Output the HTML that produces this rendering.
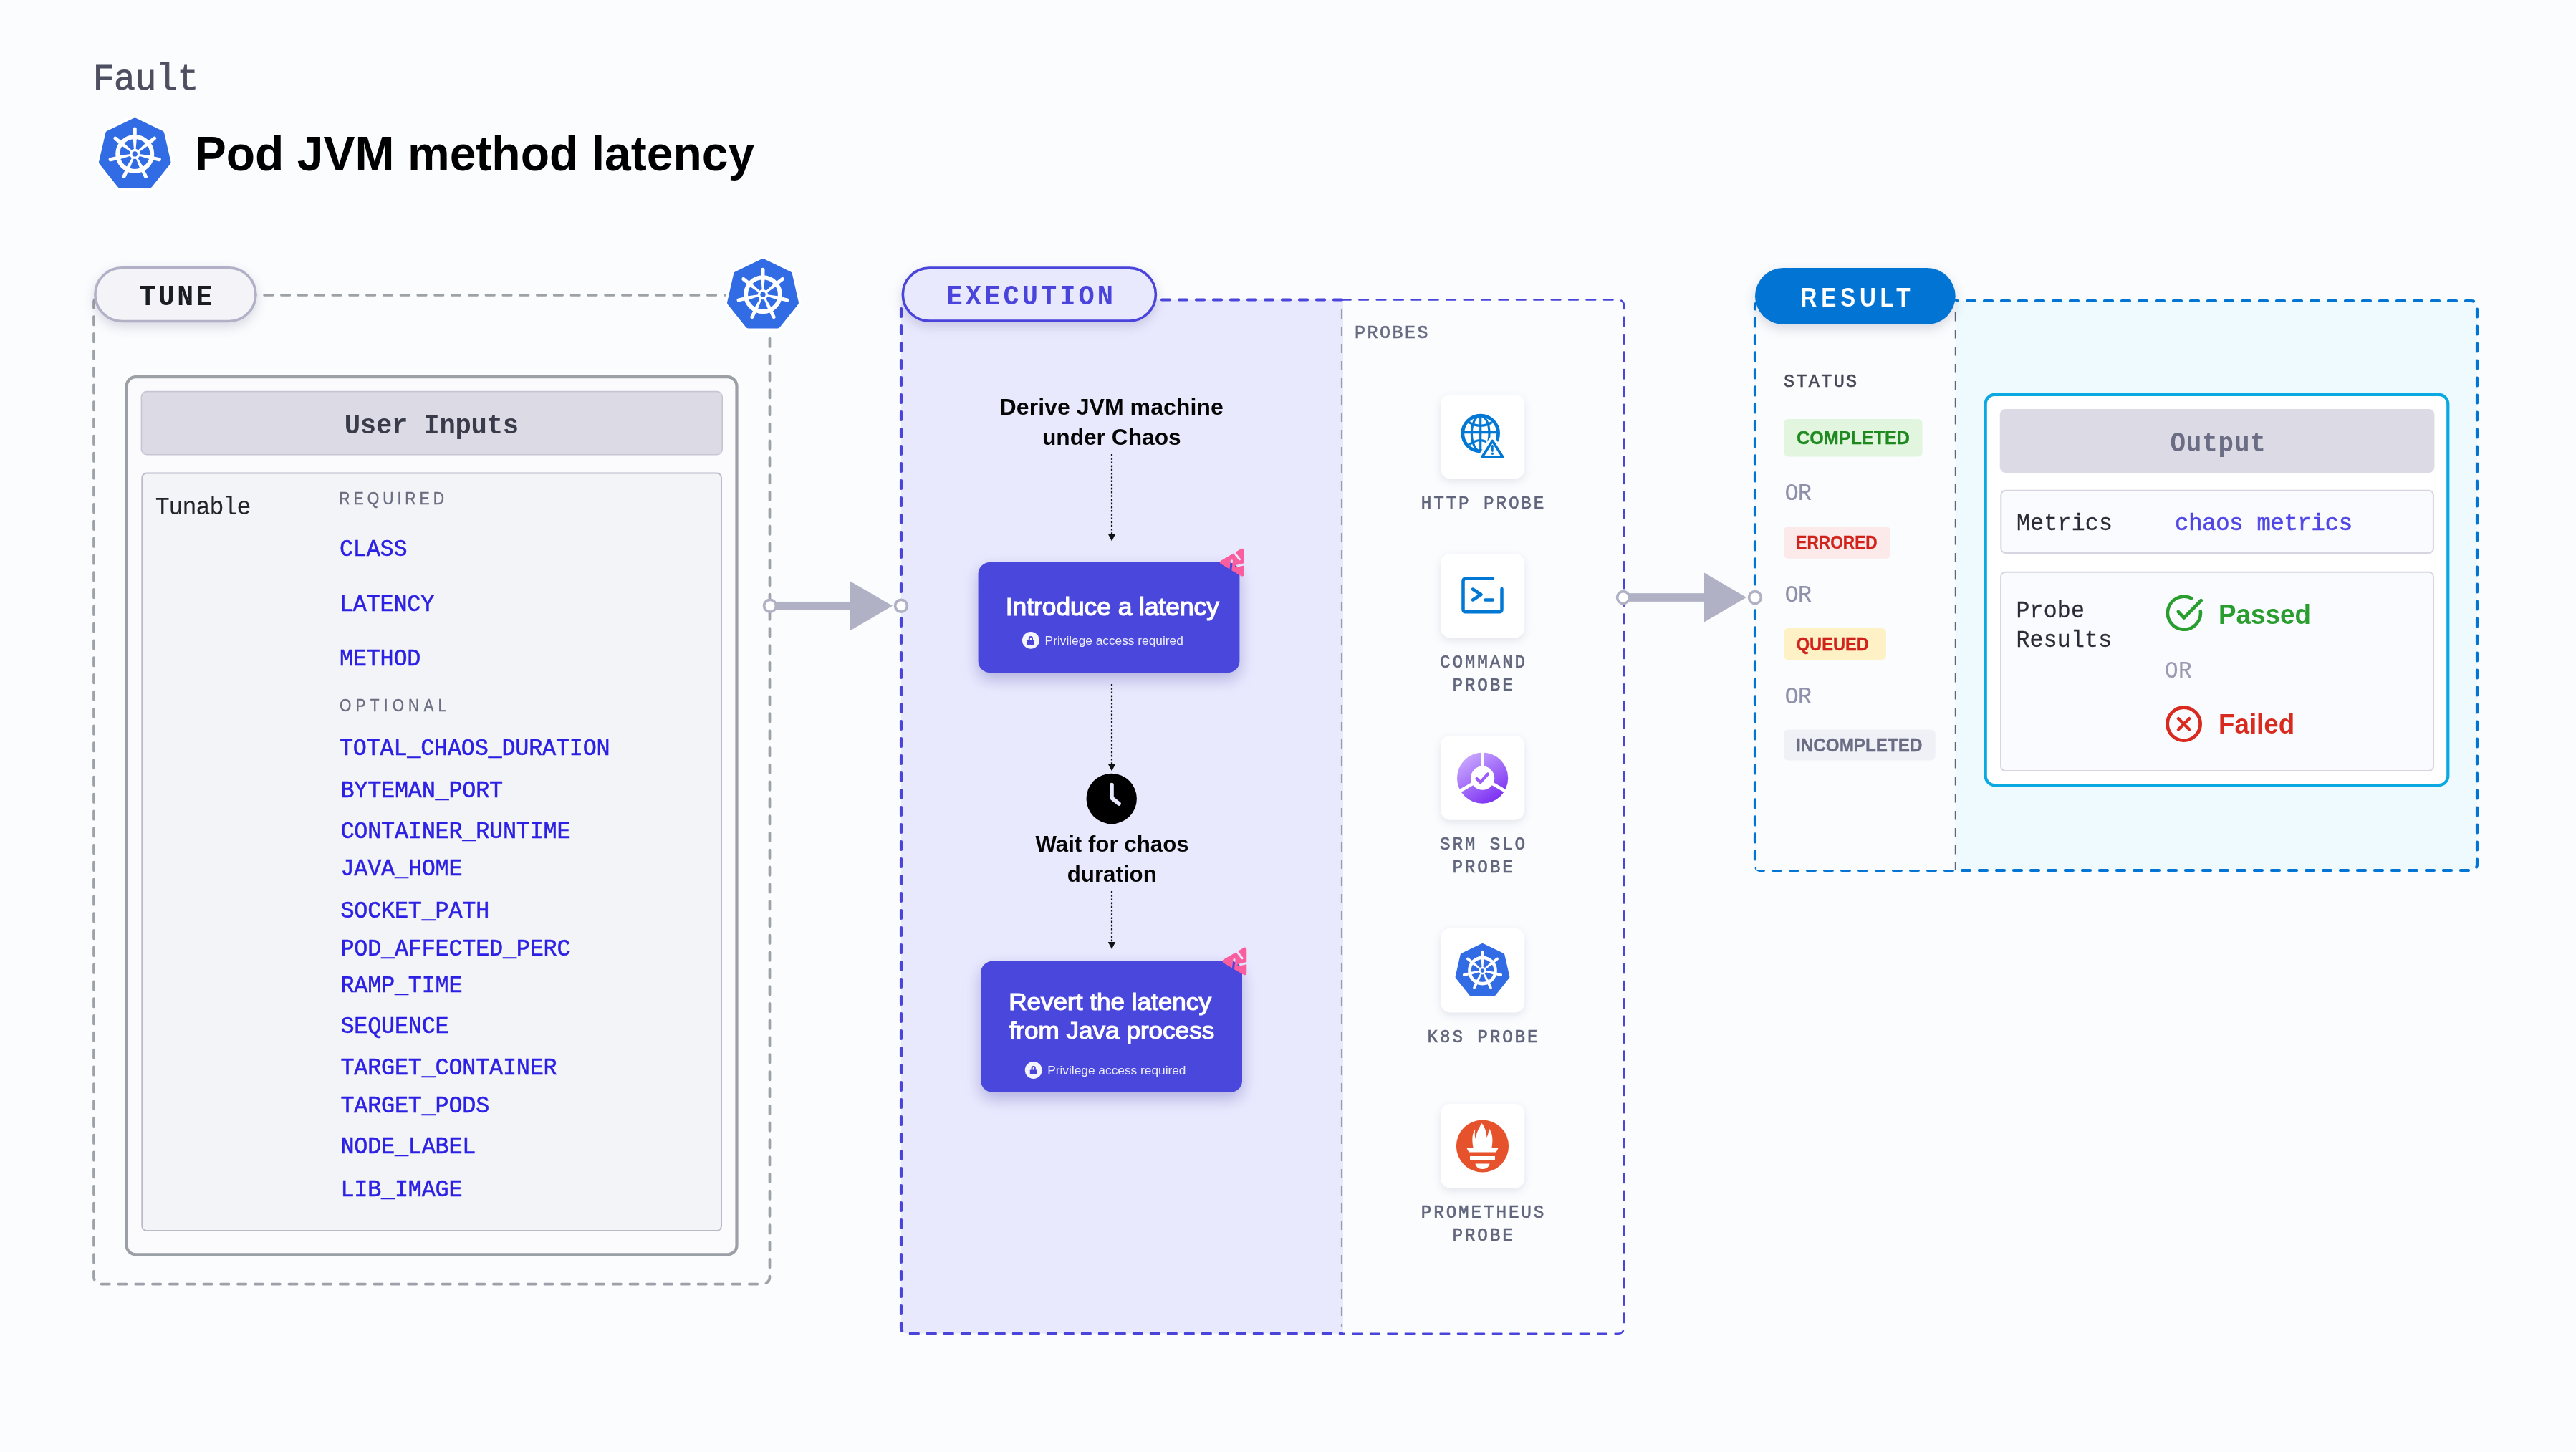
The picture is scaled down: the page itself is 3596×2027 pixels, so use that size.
<!DOCTYPE html><html><head><meta charset="utf-8"><title>Pod JVM method latency</title><style>html,body{margin:0;padding:0;background:#FBFCFE;}svg{display:block;will-change:transform;}</style></head><body>
<svg width="3596" height="2027" viewBox="0 0 3596 2027">
<defs>
<filter id="sh" x="-30%" y="-50%" width="160%" height="220%" color-interpolation-filters="sRGB"><feDropShadow dx="0" dy="6" stdDeviation="8" flood-color="#1b1d4a" flood-opacity="0.16"/></filter>
<filter id="shb" x="-40%" y="-50%" width="180%" height="220%" color-interpolation-filters="sRGB"><feDropShadow dx="0" dy="9" stdDeviation="11" flood-color="#2c2c96" flood-opacity="0.30"/></filter>
<filter id="shc" x="-40%" y="-40%" width="180%" height="190%" color-interpolation-filters="sRGB"><feDropShadow dx="0" dy="4" stdDeviation="6" flood-color="#20224a" flood-opacity="0.10"/></filter>
<linearGradient id="srm" x1="0.2" y1="0.05" x2="0.8" y2="0.95"><stop offset="0" stop-color="#C9A8FF"/><stop offset="1" stop-color="#7A2DF2"/></linearGradient>
<g id="k8s">
 <path d="M0 -47.4 L37.06 -29.55 L46.21 10.55 L20.57 42.71 L-20.57 42.71 L-46.21 10.55 L-37.06 -29.55 Z" fill="#326CE5" stroke="#326CE5" stroke-width="8" stroke-linejoin="round"/>
</g>
<g id="k8so">
 <path d="M0 -47.4 L37.06 -29.55 L46.21 10.55 L20.57 42.71 L-20.57 42.71 L-46.21 10.55 L-37.06 -29.55 Z" fill="#fff" stroke="#fff" stroke-width="16" stroke-linejoin="round"/>
</g>
<g id="wheel">
 <circle cx="0" cy="0" r="24" fill="none" stroke="#fff" stroke-width="6"/>
 <g transform="rotate(0.00)"><path d="M-1.3 -6 L1.3 -6 L2.9 -26 L-2.9 -26 Z" fill="#fff"/><line x1="0" y1="-24" x2="0" y2="-35" stroke="#fff" stroke-width="5" stroke-linecap="round"/></g><g transform="rotate(51.43)"><path d="M-1.3 -6 L1.3 -6 L2.9 -26 L-2.9 -26 Z" fill="#fff"/><line x1="0" y1="-24" x2="0" y2="-35" stroke="#fff" stroke-width="5" stroke-linecap="round"/></g><g transform="rotate(102.86)"><path d="M-1.3 -6 L1.3 -6 L2.9 -26 L-2.9 -26 Z" fill="#fff"/><line x1="0" y1="-24" x2="0" y2="-35" stroke="#fff" stroke-width="5" stroke-linecap="round"/></g><g transform="rotate(154.29)"><path d="M-1.3 -6 L1.3 -6 L2.9 -26 L-2.9 -26 Z" fill="#fff"/><line x1="0" y1="-24" x2="0" y2="-35" stroke="#fff" stroke-width="5" stroke-linecap="round"/></g><g transform="rotate(205.71)"><path d="M-1.3 -6 L1.3 -6 L2.9 -26 L-2.9 -26 Z" fill="#fff"/><line x1="0" y1="-24" x2="0" y2="-35" stroke="#fff" stroke-width="5" stroke-linecap="round"/></g><g transform="rotate(257.14)"><path d="M-1.3 -6 L1.3 -6 L2.9 -26 L-2.9 -26 Z" fill="#fff"/><line x1="0" y1="-24" x2="0" y2="-35" stroke="#fff" stroke-width="5" stroke-linecap="round"/></g><g transform="rotate(308.57)"><path d="M-1.3 -6 L1.3 -6 L2.9 -26 L-2.9 -26 Z" fill="#fff"/><line x1="0" y1="-24" x2="0" y2="-35" stroke="#fff" stroke-width="5" stroke-linecap="round"/></g>
 <circle cx="0" cy="0" r="7.2" fill="#fff"/>
 <circle cx="0" cy="0" r="3.6" fill="#326CE5"/>
</g>
</defs>
<rect x="0" y="0" width="3596" height="2027" fill="#FBFCFE"/>
<text transform="translate(129.68,125.30) scale(0.9460,1)" font-family="Liberation Mono" font-weight="400" font-size="52.58" letter-spacing="-0.439" fill="#4D4F61" stroke="#4D4F61" stroke-width="0.9">Fault</text>
<g transform="translate(188.25,215.90) scale(1.0000)"><use href="#k8so"/><use href="#k8s"/><g transform="translate(0,-1)"><use href="#wheel"/></g></g>
<text transform="translate(271.71,238.20) scale(0.9737,1)" font-family="Liberation Sans" font-weight="700" font-size="67.83" letter-spacing="0.000" fill="#000000">Pod JVM method latency</text>
<rect x="131" y="412" width="943.5" height="1380.6" rx="10" fill="none" stroke="#9DA1A8" stroke-width="3.7" stroke-dasharray="11.4 12.4" stroke-dashoffset="9.9" stroke-linecap="round"/>
<rect x="176.7" y="526.1" width="851.8" height="1225.3" rx="13" fill="#FBFBFE" stroke="#9BA0A6" stroke-width="4.2"/>
<rect x="197.4" y="546.6" width="810.8" height="88.1" rx="7.5" fill="#DCDBE5" stroke="#C6C5D3" stroke-width="1.6"/>
<text transform="translate(480.76,605.00) scale(0.9460,1)" font-family="Liberation Mono" font-weight="700" font-size="39.39" letter-spacing="-0.263" fill="#393A4A">User Inputs</text>
<rect x="198.3" y="660.5" width="808.7" height="1057.5" rx="6.5" fill="#F3F4F8" stroke="#BAB9C9" stroke-width="2"/>
<text transform="translate(216.64,717.90) scale(0.9460,1)" font-family="Liberation Mono" font-weight="400" font-size="35.15" letter-spacing="-1.029" fill="#222228" stroke="#222228" stroke-width="0.1">Tunable</text>
<text transform="translate(473.30,704.00) scale(0.8600,1)" font-family="Liberation Sans" font-weight="400" font-size="24.64" letter-spacing="5.794" fill="#6B6E80" stroke="#6B6E80" stroke-width="0.4">REQUIRED</text>
<text transform="translate(474.06,992.90) scale(0.8600,1)" font-family="Liberation Sans" font-weight="400" font-size="24.35" letter-spacing="7.197" fill="#6B6E80" stroke="#6B6E80" stroke-width="0.4">OPTIONAL</text>
<text transform="translate(473.99,775.60) scale(0.9460,1)" font-family="Liberation Mono" font-weight="400" font-size="33.64" letter-spacing="-0.235" fill="#2B20E3" stroke="#2B20E3" stroke-width="0.55">CLASS</text>
<text transform="translate(473.99,852.50) scale(0.9460,1)" font-family="Liberation Mono" font-weight="400" font-size="33.64" letter-spacing="-0.235" fill="#2B20E3" stroke="#2B20E3" stroke-width="0.55">LATENCY</text>
<text transform="translate(473.99,929.30) scale(0.9460,1)" font-family="Liberation Mono" font-weight="400" font-size="33.64" letter-spacing="-0.235" fill="#2B20E3" stroke="#2B20E3" stroke-width="0.55">METHOD</text>
<text transform="translate(473.99,1053.60) scale(0.9460,1)" font-family="Liberation Mono" font-weight="400" font-size="33.64" letter-spacing="-0.235" fill="#2B20E3" stroke="#2B20E3" stroke-width="0.55">TOTAL_CHAOS_DURATION</text>
<text transform="translate(475.49,1113.00) scale(0.9460,1)" font-family="Liberation Mono" font-weight="400" font-size="33.64" letter-spacing="-0.235" fill="#2B20E3" stroke="#2B20E3" stroke-width="0.55">BYTEMAN_PORT</text>
<text transform="translate(475.49,1170.40) scale(0.9460,1)" font-family="Liberation Mono" font-weight="400" font-size="33.64" letter-spacing="-0.235" fill="#2B20E3" stroke="#2B20E3" stroke-width="0.55">CONTAINER_RUNTIME</text>
<text transform="translate(475.49,1222.00) scale(0.9460,1)" font-family="Liberation Mono" font-weight="400" font-size="33.64" letter-spacing="-0.235" fill="#2B20E3" stroke="#2B20E3" stroke-width="0.55">JAVA_HOME</text>
<text transform="translate(475.49,1280.50) scale(0.9460,1)" font-family="Liberation Mono" font-weight="400" font-size="33.64" letter-spacing="-0.235" fill="#2B20E3" stroke="#2B20E3" stroke-width="0.55">SOCKET_PATH</text>
<text transform="translate(475.49,1334.00) scale(0.9460,1)" font-family="Liberation Mono" font-weight="400" font-size="33.64" letter-spacing="-0.235" fill="#2B20E3" stroke="#2B20E3" stroke-width="0.55">POD_AFFECTED_PERC</text>
<text transform="translate(475.49,1384.80) scale(0.9460,1)" font-family="Liberation Mono" font-weight="400" font-size="33.64" letter-spacing="-0.235" fill="#2B20E3" stroke="#2B20E3" stroke-width="0.55">RAMP_TIME</text>
<text transform="translate(475.49,1442.00) scale(0.9460,1)" font-family="Liberation Mono" font-weight="400" font-size="33.64" letter-spacing="-0.235" fill="#2B20E3" stroke="#2B20E3" stroke-width="0.55">SEQUENCE</text>
<text transform="translate(475.49,1499.60) scale(0.9460,1)" font-family="Liberation Mono" font-weight="400" font-size="33.64" letter-spacing="-0.235" fill="#2B20E3" stroke="#2B20E3" stroke-width="0.55">TARGET_CONTAINER</text>
<text transform="translate(475.49,1552.70) scale(0.9460,1)" font-family="Liberation Mono" font-weight="400" font-size="33.64" letter-spacing="-0.235" fill="#2B20E3" stroke="#2B20E3" stroke-width="0.55">TARGET_PODS</text>
<text transform="translate(475.49,1609.80) scale(0.9460,1)" font-family="Liberation Mono" font-weight="400" font-size="33.64" letter-spacing="-0.235" fill="#2B20E3" stroke="#2B20E3" stroke-width="0.55">NODE_LABEL</text>
<text transform="translate(475.49,1670.40) scale(0.9460,1)" font-family="Liberation Mono" font-weight="400" font-size="33.64" letter-spacing="-0.235" fill="#2B20E3" stroke="#2B20E3" stroke-width="0.55">LIB_IMAGE</text>
<rect x="132.9" y="373.9" width="224" height="74.6" rx="37.3" fill="#F3F3F8" stroke="#B1B0C7" stroke-width="3.6" filter="url(#sh)"/>
<text transform="translate(194.66,425.60) scale(0.9460,1)" font-family="Liberation Mono" font-weight="700" font-size="40.30" letter-spacing="3.582" fill="#1C1D22">TUNE</text>
<g transform="translate(1065.00,412.14) scale(0.9950)"><use href="#k8so"/><use href="#k8s"/><g transform="translate(0,-1)"><use href="#wheel"/></g></g>
<rect x="1075" y="839.95" width="113" height="11.7" fill="#B0B1C5"/>
<path d="M1187 811.40 L1246 845.80 L1187 880.20 Z" fill="#B0B1C5"/>
<rect x="1873" y="418.5" width="394" height="1443" fill="#FBFCFE"/>
<rect x="1258" y="418.5" width="615" height="1443" rx="8" fill="#E9E9FE"/>
<rect x="1865" y="418.5" width="10" height="1443" fill="#E9E9FE"/>
<line x1="1873" y1="432" x2="1873" y2="1852" stroke="#9A9CAC" stroke-width="2.2" stroke-dasharray="13 11"/>
<path d="M1873 418.5 H1266 A8 8 0 0 0 1258 426.5 V1853.7 A8 8 0 0 0 1266 1861.7 H1873" fill="none" stroke="#4A44DB" stroke-width="4.2" stroke-dasharray="11 13" stroke-linecap="round"/>
<path d="M1873 418.5 H2259 A8 8 0 0 1 2267 426.5 V1853.7 A8 8 0 0 1 2259 1861.7 H1873" fill="none" stroke="#4A44DB" stroke-width="2.6" stroke-dasharray="12.5 11.9" stroke-linecap="round"/>
<rect x="1260.3" y="374.1" width="353.1" height="74" rx="37" fill="#E9E9FE" stroke="#4A44DB" stroke-width="3.6" filter="url(#sh)"/>
<text transform="translate(1321.60,425.30) scale(0.9460,1)" font-family="Liberation Mono" font-weight="700" font-size="39.09" letter-spacing="4.323" fill="#4A44DB">EXECUTION</text>
<text transform="translate(1395.61,578.70) scale(1.0403,1)" font-family="Liberation Sans" font-weight="700" font-size="30.87" letter-spacing="0.000" fill="#050505">Derive JVM machine</text>
<text transform="translate(1454.90,620.80) scale(1.0273,1)" font-family="Liberation Sans" font-weight="700" font-size="30.87" letter-spacing="0.000" fill="#050505">under Chaos</text>
<line x1="1552" y1="634" x2="1552" y2="746.5" stroke="#111" stroke-width="2.2" stroke-dasharray="2.6 2.6"/>
<path d="M1546.8 745.5 L1557.2 745.5 L1552 755.5 Z" fill="#111"/>
<line x1="1552" y1="955" x2="1552" y2="1067.4" stroke="#111" stroke-width="2.2" stroke-dasharray="2.6 2.6"/>
<path d="M1546.8 1066.4 L1557.2 1066.4 L1552 1076.4 Z" fill="#111"/>
<line x1="1552" y1="1244" x2="1552" y2="1316.1" stroke="#111" stroke-width="2.2" stroke-dasharray="2.6 2.6"/>
<path d="M1546.8 1315.1 L1557.2 1315.1 L1552 1325.1 Z" fill="#111"/>
<rect x="1365.6" y="785" width="364.8" height="154" rx="16" fill="#4A47DC" filter="url(#shb)"/>
<text transform="translate(1403.82,859.30) scale(1.0230,1)" font-family="Liberation Sans" font-weight="400" font-size="34.49" letter-spacing="0.000" fill="#FFFFFF" stroke="#FFFFFF" stroke-width="1.2">Introduce a latency</text>
<circle cx="1438.9" cy="893.9" r="11.9" fill="#F4F4FC"/>
<rect x="1433.95" y="893.50" width="9.9" height="6.5" rx="0.6" fill="#4A44DB"/>
<path d="M1436.80 893.90 V891.00 A2.1 2.1 0 0 1 1441.00 891.00 V893.90" fill="none" stroke="#4A44DB" stroke-width="2"/>
<text transform="translate(1458.62,899.80) scale(1.0024,1)" font-family="Liberation Sans" font-weight="400" font-size="17.25" letter-spacing="0.000" fill="#EDEDFB">Privilege access required</text>
<mask id="bm1" maskUnits="userSpaceOnUse" x="1690.4" y="755" width="60" height="60"><path d="M1705.90 785.00 L1733.90 768.70 L1733.90 801.70 Z" fill="#fff" stroke="#fff" stroke-width="6" stroke-linejoin="round"/><path d="M1719.90 767.50 L1730.40 780.90 M1719.40 782.80 L1717.20 801.00 M1725.50 790.40 L1741.40 786.80" stroke="#000" stroke-width="3.1" stroke-linecap="round" fill="none"/></mask>
<path d="M1705.90 785.00 L1733.90 768.70 L1733.90 801.70 Z" fill="#FB5E9E" stroke="#FB5E9E" stroke-width="6" stroke-linejoin="round" mask="url(#bm1)"/>
<circle cx="1551.7" cy="1115" r="35.2" fill="#000"/>
<path d="M1552 1095.6 V1114 L1562 1122" fill="none" stroke="#E9E9FE" stroke-width="5.6" stroke-linecap="round" stroke-linejoin="round"/>
<text transform="translate(1445.40,1188.70) scale(0.9814,1)" font-family="Liberation Sans" font-weight="700" font-size="31.88" letter-spacing="0.000" fill="#050505">Wait for chaos</text>
<text transform="translate(1489.73,1230.80) scale(0.9814,1)" font-family="Liberation Sans" font-weight="700" font-size="31.88" letter-spacing="0.000" fill="#050505">duration</text>
<rect x="1369.3" y="1341.8" width="364.7" height="183" rx="16" fill="#4A47DC" filter="url(#shb)"/>
<text transform="translate(1408.19,1410.20) scale(1.0346,1)" font-family="Liberation Sans" font-weight="400" font-size="33.91" letter-spacing="0.000" fill="#FFFFFF" stroke="#FFFFFF" stroke-width="1.2">Revert the latency</text>
<text transform="translate(1408.62,1450.00) scale(1.0346,1)" font-family="Liberation Sans" font-weight="400" font-size="33.91" letter-spacing="0.000" fill="#FFFFFF" stroke="#FFFFFF" stroke-width="1.2">from Java process</text>
<circle cx="1442.7" cy="1494.0" r="11.9" fill="#F4F4FC"/>
<rect x="1437.75" y="1493.60" width="9.9" height="6.5" rx="0.6" fill="#4A44DB"/>
<path d="M1440.60 1494.00 V1491.10 A2.1 2.1 0 0 1 1444.80 1491.10 V1494.00" fill="none" stroke="#4A44DB" stroke-width="2"/>
<text transform="translate(1462.21,1500.00) scale(1.0040,1)" font-family="Liberation Sans" font-weight="400" font-size="17.25" letter-spacing="0.000" fill="#EDEDFB">Privilege access required</text>
<mask id="bm2" maskUnits="userSpaceOnUse" x="1694" y="1311.8" width="60" height="60"><path d="M1709.50 1341.80 L1737.50 1325.50 L1737.50 1358.50 Z" fill="#fff" stroke="#fff" stroke-width="6" stroke-linejoin="round"/><path d="M1723.50 1324.30 L1734.00 1337.70 M1723.00 1339.60 L1720.80 1357.80 M1729.10 1347.20 L1745.00 1343.60" stroke="#000" stroke-width="3.1" stroke-linecap="round" fill="none"/></mask>
<path d="M1709.50 1341.80 L1737.50 1325.50 L1737.50 1358.50 Z" fill="#FB5E9E" stroke="#FB5E9E" stroke-width="6" stroke-linejoin="round" mask="url(#bm2)"/>
<text transform="translate(1891.00,472.40) scale(0.9460,1)" font-family="Liberation Mono" font-weight="400" font-size="26.36" letter-spacing="2.681" fill="#676B80" stroke="#676B80" stroke-width="0.7">PROBES</text>
<rect x="2011" y="550.7" width="117.3" height="117.8" rx="14" fill="#FFFFFF" filter="url(#shc)"/>
<rect x="2011" y="772.9" width="117.3" height="117.8" rx="14" fill="#FFFFFF" filter="url(#shc)"/>
<rect x="2011" y="1027" width="117.3" height="117.8" rx="14" fill="#FFFFFF" filter="url(#shc)"/>
<rect x="2011" y="1295.8" width="117.3" height="117.8" rx="14" fill="#FFFFFF" filter="url(#shc)"/>
<rect x="2011" y="1541" width="117.3" height="117.8" rx="14" fill="#FFFFFF" filter="url(#shc)"/>
<text transform="translate(1983.76,710.40) scale(0.9460,1)" font-family="Liberation Mono" font-weight="400" font-size="25.76" letter-spacing="2.992" fill="#62667C" stroke="#62667C" stroke-width="0.6">HTTP PROBE</text>
<text transform="translate(2009.94,931.60) scale(0.9460,1)" font-family="Liberation Mono" font-weight="400" font-size="25.76" letter-spacing="2.992" fill="#62667C" stroke="#62667C" stroke-width="0.6">COMMAND</text>
<text transform="translate(2027.39,964.00) scale(0.9460,1)" font-family="Liberation Mono" font-weight="400" font-size="25.76" letter-spacing="2.992" fill="#62667C" stroke="#62667C" stroke-width="0.6">PROBE</text>
<text transform="translate(2009.94,1185.90) scale(0.9460,1)" font-family="Liberation Mono" font-weight="400" font-size="25.76" letter-spacing="2.992" fill="#62667C" stroke="#62667C" stroke-width="0.6">SRM SLO</text>
<text transform="translate(2027.39,1217.50) scale(0.9460,1)" font-family="Liberation Mono" font-weight="400" font-size="25.76" letter-spacing="2.992" fill="#62667C" stroke="#62667C" stroke-width="0.6">PROBE</text>
<text transform="translate(1992.49,1455.00) scale(0.9460,1)" font-family="Liberation Mono" font-weight="400" font-size="25.76" letter-spacing="2.992" fill="#62667C" stroke="#62667C" stroke-width="0.6">K8S PROBE</text>
<text transform="translate(1983.76,1699.80) scale(0.9460,1)" font-family="Liberation Mono" font-weight="400" font-size="25.76" letter-spacing="2.992" fill="#62667C" stroke="#62667C" stroke-width="0.6">PROMETHEUS</text>
<text transform="translate(2027.39,1732.00) scale(0.9460,1)" font-family="Liberation Mono" font-weight="400" font-size="25.76" letter-spacing="2.992" fill="#62667C" stroke="#62667C" stroke-width="0.6">PROBE</text>
<g fill="none" stroke="#0278D5" stroke-width="3.2"><circle cx="2066.7" cy="605" r="24.9" stroke-width="4.8"/><ellipse cx="2066.7" cy="605" rx="12.3" ry="24.9"/><line x1="2066.7" y1="580" x2="2066.7" y2="630"/><line x1="2042" y1="603.6" x2="2091.5" y2="603.6"/><path d="M2050.6 589.5 Q2066.7 599 2082.8 589.5"/><path d="M2051 620.8 Q2063 611 2074.5 616.5"/></g>
<path d="M2083.4 615.5 L2097.8 638 L2069 638 Z" fill="#fff" stroke="#fff" stroke-width="11" stroke-linejoin="round"/>
<path d="M2083.4 615.5 L2097.8 638 L2069 638 Z" fill="#fff" stroke="#0278D5" stroke-width="3.7" stroke-linejoin="round"/>
<line x1="2083.4" y1="622.5" x2="2083.4" y2="629.5" stroke="#0278D5" stroke-width="2.8" stroke-linecap="round"/><circle cx="2083.4" cy="633.2" r="1.7" fill="#0278D5"/>
<g fill="none" stroke="#0278D5" stroke-width="4.5" stroke-linecap="round" stroke-linejoin="round"><path d="M2084 807.7 H2046 Q2042.5 807.7 2042.5 811.2 V850.7 Q2042.5 854.2 2046 854.2 H2093 Q2096.5 854.2 2096.5 850.7 V822"/><path d="M2056 822.5 L2067.5 830 L2056 837.5"/><path d="M2073.5 837.5 H2084"/></g>
<g><circle cx="2069.6" cy="1086.2" r="35.6" fill="url(#srm)"/><g stroke="#fff" stroke-width="4.6"><line x1="2069.6" y1="1048" x2="2069.6" y2="1086"/><line x1="2069.6" y1="1086" x2="2035" y2="1106"/><line x1="2069.6" y1="1086" x2="2104.2" y2="1106"/></g><circle cx="2069.6" cy="1086.2" r="16.6" fill="#fff"/><path d="M2061.5 1087 L2066.5 1092 L2077 1080.5" fill="none" stroke="#9D5CF7" stroke-width="4.2" stroke-linecap="round" stroke-linejoin="round"/></g>
<g transform="translate(2069.50,1355.77) scale(0.7542)"><use href="#k8s"/><g transform="translate(0,-1)"><use href="#wheel"/></g></g>
<circle cx="2069.5" cy="1600" r="36.6" fill="#E6522C"/>
<g fill="#fff"><path d="M2068.3 1568 C2064 1576 2060.5 1582 2060 1590 C2058 1584 2059 1580 2059.5 1576.5 C2055 1582 2054.5 1590 2056.5 1602 L2082.5 1602 C2084.5 1590 2083.5 1582 2078.5 1575 C2078 1580 2077.5 1584 2075.5 1588 C2075 1580 2073 1573 2068.3 1568 Z"/><path d="M2047 1602 L2092 1602 L2088.5 1608.5 L2050.5 1608.5 Z"/><rect x="2052" y="1614" width="35" height="6"/><path d="M2059.5 1624.5 H2079.5 A10 7.5 0 0 1 2059.5 1624.5 Z"/></g>
<rect x="2266" y="828.15" width="114" height="11.7" fill="#B0B1C5"/>
<path d="M2379 799.60 L2438 834.00 L2379 868.40 Z" fill="#B0B1C5"/>
<rect x="2450" y="420" width="1008" height="795" rx="8" fill="#EEFAFE"/>
<rect x="2450" y="420" width="1008" height="795" rx="8" fill="none" stroke="#0274D4" stroke-width="4.2" stroke-dasharray="11 13" stroke-linecap="round"/>
<rect x="2452.1" y="420" width="277.4" height="794.8" fill="#FBFCFE"/>
<line x1="2729.5" y1="436" x2="2729.5" y2="1215" stroke="#60627A" stroke-width="1.4" stroke-dasharray="12.5 11.5"/>
<rect x="2450" y="374" width="279.7" height="79" rx="39.5" fill="#0274D4" filter="url(#sh)"/>
<text transform="translate(2513.54,427.60) scale(0.8400,1)" font-family="Liberation Sans" font-weight="700" font-size="37.68" letter-spacing="6.866" fill="#FFFFFF">RESULT</text>
<text transform="translate(2489.99,540.20) scale(0.9460,1)" font-family="Liberation Mono" font-weight="400" font-size="26.67" letter-spacing="2.422" fill="#474857" stroke="#474857" stroke-width="0.65">STATUS</text>
<rect x="2490.3" y="585" width="193.3" height="52.6" rx="6" fill="#E2F5DE"/>
<text transform="translate(2507.99,620.00) scale(1.0044,1)" font-family="Liberation Sans" font-weight="700" font-size="25.07" letter-spacing="0.000" fill="#1E8A1F" stroke="#1E8A1F" stroke-width="0.35">COMPLETED</text>
<rect x="2490" y="735" width="149.0" height="44.7" rx="6" fill="#FCE9EA"/>
<text transform="translate(2507.33,766.00) scale(0.9044,1)" font-family="Liberation Sans" font-weight="700" font-size="25.07" letter-spacing="0.000" fill="#D0231B" stroke="#D0231B" stroke-width="0.35">ERRORED</text>
<rect x="2490" y="877" width="143.0" height="44.0" rx="6" fill="#FDF1C5"/>
<text transform="translate(2507.76,907.70) scale(0.9422,1)" font-family="Liberation Sans" font-weight="700" font-size="25.07" letter-spacing="0.000" fill="#D0231B" stroke="#D0231B" stroke-width="0.35">QUEUED</text>
<rect x="2490" y="1018.4" width="211.7" height="43.1" rx="6" fill="#F0F1F6"/>
<text transform="translate(2507.12,1048.60) scale(0.9668,1)" font-family="Liberation Sans" font-weight="700" font-size="25.07" letter-spacing="0.000" fill="#6B6D85" stroke="#6B6D85" stroke-width="0.35">INCOMPLETED</text>
<text transform="translate(2491.49,698.20) scale(0.9460,1)" font-family="Liberation Mono" font-weight="400" font-size="34.09" letter-spacing="-1.249" fill="#8F91AB" stroke="#8F91AB" stroke-width="0.1">OR</text>
<text transform="translate(2491.49,840.30) scale(0.9460,1)" font-family="Liberation Mono" font-weight="400" font-size="34.09" letter-spacing="-1.249" fill="#8F91AB" stroke="#8F91AB" stroke-width="0.1">OR</text>
<text transform="translate(2491.49,982.40) scale(0.9460,1)" font-family="Liberation Mono" font-weight="400" font-size="34.09" letter-spacing="-1.249" fill="#8F91AB" stroke="#8F91AB" stroke-width="0.1">OR</text>
<rect x="2771.7" y="550.9" width="645.6" height="545.2" rx="13" fill="#FFFFFF" stroke="#0BA9E1" stroke-width="4.2"/>
<rect x="2791.7" y="571" width="606.7" height="89" rx="8" fill="#DCDBE5"/>
<text transform="translate(3029.45,629.80) scale(0.9460,1)" font-family="Liberation Mono" font-weight="700" font-size="37.88" letter-spacing="0.921" fill="#6B6D85">Output</text>
<rect x="2793.3" y="684.8" width="603.6" height="87.1" rx="6.5" fill="#FAFBFE" stroke="#D6D5E1" stroke-width="2"/>
<text transform="translate(2815.11,740.40) scale(0.9460,1)" font-family="Liberation Mono" font-weight="400" font-size="33.33" letter-spacing="0.225" fill="#2A2B36" stroke="#2A2B36" stroke-width="0.3">Metrics</text>
<text transform="translate(3036.11,740.40) scale(0.9460,1)" font-family="Liberation Mono" font-weight="400" font-size="33.94" letter-spacing="-0.218" fill="#5046E5" stroke="#5046E5" stroke-width="0.7">chaos metrics</text>
<rect x="2793" y="798.7" width="604" height="277.2" rx="6.5" fill="#FAFBFE" stroke="#D6D5E1" stroke-width="2"/>
<text transform="translate(2814.48,862.10) scale(0.9460,1)" font-family="Liberation Mono" font-weight="400" font-size="33.33" letter-spacing="0.222" fill="#2A2B36" stroke="#2A2B36" stroke-width="0.3">Probe</text>
<text transform="translate(2814.48,903.00) scale(0.9460,1)" font-family="Liberation Mono" font-weight="400" font-size="33.33" letter-spacing="0.222" fill="#2A2B36" stroke="#2A2B36" stroke-width="0.3">Results</text>
<path d="M3071.8 853.3 A23 23 0 1 1 3059.1 835.1" fill="none" stroke="#2A9D2F" stroke-width="4.6" stroke-linecap="round"/>
<path d="M3040.9 854.1 L3048.8 862.5 L3072.6 838.2" fill="none" stroke="#2A9D2F" stroke-width="4.8" stroke-linecap="round" stroke-linejoin="round"/>
<text transform="translate(3097.11,870.50) scale(0.9396,1)" font-family="Liberation Sans" font-weight="700" font-size="39.13" letter-spacing="0.000" fill="#2A9D2F">Passed</text>
<text transform="translate(3021.94,945.80) scale(0.9460,1)" font-family="Liberation Mono" font-weight="400" font-size="32.88" letter-spacing="0.538" fill="#9A9BB3" stroke="#9A9BB3" stroke-width="0.15">OR</text>
<circle cx="3048.6" cy="1010.6" r="23" fill="none" stroke="#D82A1F" stroke-width="4.8"/>
<path d="M3041 1003.2 L3056.2 1018.2 M3056.2 1003.2 L3041 1018.2" stroke="#D82A1F" stroke-width="4.4" stroke-linecap="round"/>
<text transform="translate(3097.11,1023.90) scale(0.9380,1)" font-family="Liberation Sans" font-weight="700" font-size="39.13" letter-spacing="0.000" fill="#D82A1F">Failed</text>
<circle cx="1075" cy="845.8" r="8.4" fill="#fff" stroke="#B0B1C5" stroke-width="3.7"/>
<circle cx="1258" cy="845.8" r="8.4" fill="#fff" stroke="#B0B1C5" stroke-width="3.7"/>
<circle cx="2266" cy="834" r="8.4" fill="#fff" stroke="#B0B1C5" stroke-width="3.7"/>
<circle cx="2450" cy="834" r="8.4" fill="#fff" stroke="#B0B1C5" stroke-width="3.7"/>
</svg></body></html>
